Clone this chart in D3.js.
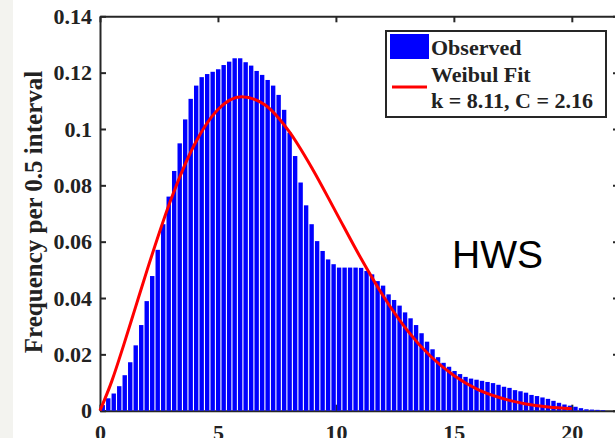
<!DOCTYPE html>
<meta charset="utf-8">
<body style="margin:0;background:#fff">
<script src="https://d3js.org/d3.v7.min.js"></script>
<script>
// histogram bins (width in x units) and observed frequency per bin
var binWidth = 0.233;
var observed = [
  0.0020, 0.0044, 0.0061, 0.0087, 0.0126, 0.0172, 0.0232, 0.0304, 0.0389, 0.0478,
  0.0571, 0.0662, 0.0760, 0.0851, 0.0949, 0.1034, 0.1107, 0.1154, 0.1184, 0.1195,
  0.1203, 0.1212, 0.1227, 0.1239, 0.1251, 0.1251, 0.1237, 0.1225, 0.1206, 0.1192,
  0.1174, 0.1154, 0.1121, 0.1068, 0.0987, 0.0904, 0.0810, 0.0729, 0.0662, 0.0602,
  0.0567, 0.0537, 0.0520, 0.0508, 0.0508, 0.0508, 0.0508, 0.0507, 0.0496, 0.0484,
  0.0460, 0.0444, 0.0413, 0.0393, 0.0373, 0.0349, 0.0328, 0.0304, 0.0275, 0.0245,
  0.0218, 0.0190, 0.0170, 0.0156, 0.0141, 0.0130, 0.0120, 0.0114, 0.0110, 0.0106,
  0.0102, 0.0098, 0.0092, 0.0085, 0.0081, 0.0073, 0.0069, 0.0064, 0.0056, 0.0052,
  0.0047, 0.0042, 0.0035, 0.0028, 0.0022, 0.0018, 0.0014, 0.0009, 0.0005, 0.0004,
  0.0003, 0.0002
];

// weibull fit curve
var fitX = [0, 0.5, 1, 1.5, 2, 3, 4, 5, 6, 7, 8, 9, 10, 11, 12, 13, 14, 15, 16, 17, 18, 19, 20];
var fitY = [0, 0.0105, 0.0232, 0.0366, 0.0500, 0.0748, 0.0944, 0.1069, 0.1114, 0.1085,
  0.0993, 0.0859, 0.0705, 0.0550, 0.0408, 0.0288, 0.0194, 0.0125, 0.0076, 0.0045,
  0.0025, 0.0013, 0.0007];

var xTicks = [0, 5, 10, 15, 20];
var yTicks = [0, 0.02, 0.04, 0.06, 0.08, 0.1, 0.12, 0.14];
var yTickLabels = ["0", "0.02", "0.04", "0.06", "0.08", "0.1", "0.12", "0.14"];
var legendLabels = ["Observed", "Weibul Fit", "k = 8.11, C = 2.16"];

var width = 615, height = 438;
var axisColor = "#262626";
var serif = "'Liberation Serif', 'Times New Roman', serif";

var svg = d3.select("body").append("svg")
    .attr("width", width)
    .attr("height", height)
    .style("display", "block");

svg.append("rect").attr("width", width).attr("height", height).attr("fill", "#fff");
// grey strip of the slide on the left
svg.append("rect").attr("x", 0).attr("y", 0).attr("width", 13).attr("height", height).attr("fill", "#f3f3ef");

var x = d3.scaleLinear().domain([0, 22]).range([100, 619]);
var y = d3.scaleLinear().domain([0, 0.14]).range([410.7, 16.3]);

function styleAxis(g) {
  g.select(".domain").attr("stroke", axisColor).attr("stroke-width", 2);
  g.selectAll(".tick line").attr("stroke", axisColor).attr("stroke-width", 2);
  g.selectAll("text")
    .attr("fill", "#222")
    .style("font-family", serif)
    .style("font-weight", "bold")
    .style("font-size", "22px");
}

var gLeft = svg.append("g")
    .attr("transform", "translate(" + x(0) + ",0)")
    .call(d3.axisLeft(y).tickValues(yTicks).tickFormat((d, i) => yTickLabels[i])
      .tickSizeInner(-6).tickSizeOuter(0).tickPadding(8));
styleAxis(gLeft);
gLeft.selectAll("text").attr("dy", "0.33em");

var gRight = svg.append("g")
    .attr("transform", "translate(" + x(22) + ",0)")
    .call(d3.axisRight(y).tickValues(yTicks).tickFormat("").tickSizeInner(-6).tickSizeOuter(0));
styleAxis(gRight);

var gTop = svg.append("g")
    .attr("transform", "translate(0," + y(0.14) + ")")
    .call(d3.axisTop(x).tickValues(xTicks).tickFormat("").tickSizeInner(-6).tickSizeOuter(0));
styleAxis(gTop);

var gBottom = svg.append("g")
    .attr("transform", "translate(0," + y(0) + ")")
    .call(d3.axisBottom(x).tickValues(xTicks).tickFormat(d3.format("d"))
      .tickSizeInner(-6).tickSizeOuter(0));
styleAxis(gBottom);
gBottom.selectAll("text").attr("y", 29).attr("dy", 0);

// bars
svg.append("g").selectAll("rect")
  .data(observed)
  .enter()
  .append("rect")
  .attr("x", (d, i) => x((i + 0.1) * binWidth))
  .attr("width", x(binWidth * 0.8) - x(0))
  .attr("y", d => y(d))
  .attr("height", d => y(0) - y(d))
  .attr("fill", "#0000ff");

// fitted curve
var line = d3.line()
  .x((d, i) => x(fitX[i]))
  .y(d => y(d))
  .curve(d3.curveMonotoneX);

svg.append("path")
  .datum(fitY)
  .attr("d", line)
  .attr("fill", "none")
  .attr("stroke", "#ff0000")
  .attr("stroke-width", 3);

// legend
var legend = svg.append("g");
legend.append("rect")
  .attr("x", 386).attr("y", 31).attr("width", 220).attr("height", 86)
  .attr("fill", "#fff").attr("stroke", axisColor).attr("stroke-width", 2);
legend.append("rect")
  .attr("x", 390).attr("y", 34).attr("width", 39).attr("height", 25)
  .attr("fill", "#0000ff");
legend.append("line")
  .attr("x1", 392).attr("x2", 427).attr("y1", 87).attr("y2", 87)
  .attr("stroke", "#ff0000").attr("stroke-width", 3);
legend.selectAll("text.lab")
  .data(legendLabels)
  .enter()
  .append("text")
  .attr("class", "lab")
  .attr("x", 431)
  .attr("y", (d, i) => [55, 82, 108][i])
  .attr("fill", "#222")
  .style("font-family", serif)
  .style("font-weight", "bold")
  .style("font-size", "22px")
  .text(d => d);

// annotation
svg.append("text")
  .attr("x", 452).attr("y", 268)
  .attr("fill", "#000")
  .style("font-family", "'Liberation Sans', Arial, sans-serif")
  .style("font-size", "39px")
  .text("HWS");

// y label
svg.append("text")
  .attr("transform", "translate(42,212) rotate(-90)")
  .attr("text-anchor", "middle")
  .attr("fill", "#222")
  .style("font-family", serif)
  .style("font-weight", "bold")
  .style("font-size", "25px")
  .text("Frequency per 0.5 interval");
</script>
</body>
